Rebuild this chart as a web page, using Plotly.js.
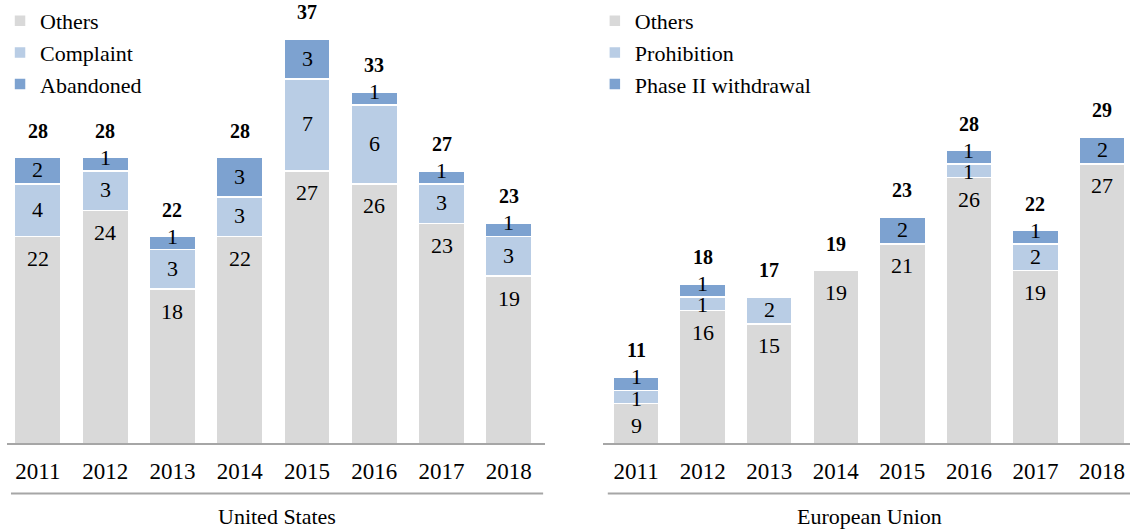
<!DOCTYPE html>
<html>
<head>
<meta charset="utf-8">
<script src="https://cdn.plot.ly/plotly-3.0.1.min.js"></script>
<style>html,body{margin:0;padding:0;background:#fff;}#chart{width:1130px;height:531px;}</style>
</head>
<body>
<div id="chart"></div>
<script>
const years = ['2011','2012','2013','2014','2015','2016','2017','2018'];

const usOthers    = [22, 24, 18, 22, 27, 26, 23, 19];
const usComplaint = [4, 3, 3, 3, 7, 6, 3, 3];
const usAbandoned = [2, 1, 1, 3, 3, 1, 1, 1];

const euOthers      = [9, 16, 15, 19, 21, 26, 19, 27];
const euProhibition = [1, 1, 2, 0, 0, 1, 2, 0];
const euPhaseII     = [1, 1, 0, 0, 2, 1, 1, 2];

const panelTitles = ['United States', 'European Union'];

const FONT = 'Liberation Serif, Times New Roman, serif';
const C_OTHERS = '#d9d9d9';
const C_LIGHT = '#b9cde5';
const C_DARK = '#7da2d0';

function vals(arr){ return arr.map(v => v ? v : null); }

function barTrace(name, y, color, xa, ya, legend){
  return {
    type: 'bar', name: name, x: years, y: vals(y),
    xaxis: xa, yaxis: ya, legend: legend,
    marker: {color: color, line: {color: '#ffffff', width: 1.5}},
    textposition: 'none',
    hoverinfo: 'skip'
  };
}

const data = [
  barTrace('Others', usOthers, C_OTHERS, 'x', 'y', 'legend'),
  barTrace('Complaint', usComplaint, C_LIGHT, 'x', 'y', 'legend'),
  barTrace('Abandoned', usAbandoned, C_DARK, 'x', 'y', 'legend'),
  barTrace('Others', euOthers, C_OTHERS, 'x2', 'y2', 'legend2'),
  barTrace('Prohibition', euProhibition, C_LIGHT, 'x2', 'y2', 'legend2'),
  barTrace('Phase II withdrawal', euPhaseII, C_DARK, 'x2', 'y2', 'legend2')
];

const usTotals = years.map((_, i) => usOthers[i] + usComplaint[i] + usAbandoned[i]);
const euTotals = years.map((_, i) => euOthers[i] + euProhibition[i] + euPhaseII[i]);

const annotations = [];
const segFont = {family: FONT, size: 22, color: '#000'};
function addPanel(others, light, dark, totals, xr, yr){
  others.forEach((v, i) => {
    annotations.push({x: i, y: v, xref: xr, yref: yr, text: String(v),
      showarrow: false, yanchor: 'middle', yshift: -22, font: segFont});
    if (light[i]) {
      annotations.push({x: i, y: v + light[i] / 2, xref: xr, yref: yr, text: String(light[i]),
        showarrow: false, yanchor: 'middle', yshift: light[i] === 1 ? -1 : 1, font: segFont});
    }
    if (dark[i]) {
      annotations.push({x: i, y: v + light[i] + dark[i] / 2, xref: xr, yref: yr, text: String(dark[i]),
        showarrow: false, yanchor: 'middle', yshift: dark[i] === 1 ? 7 : 1, font: segFont});
    }
    annotations.push({x: i, y: totals[i], xref: xr, yref: yr, text: '<b>' + totals[i] + '</b>',
      showarrow: false, yanchor: 'bottom', yshift: 14, font: {family: FONT, size: 20, color: '#000'}});
  });
}
addPanel(usOthers, usComplaint, usAbandoned, usTotals, 'x', 'y');
addPanel(euOthers, euProhibition, euPhaseII, euTotals, 'x2', 'y2');

annotations.push({x: 272/1130, y: -74/443, xref: 'paper', yref: 'paper', text: panelTitles[0],
  showarrow: false, xanchor: 'center', yanchor: 'middle', font: {family: FONT, size: 22, color: '#000'}});
annotations.push({x: 868/1130, y: -74/443, xref: 'paper', yref: 'paper', text: panelTitles[1],
  showarrow: false, xanchor: 'center', yanchor: 'middle', font: {family: FONT, size: 22, color: '#000'}});

const xCommon = {
  type: 'category', showgrid: false, zeroline: false, showline: true,
  linecolor: '#a6a6a6', linewidth: 2, ticks: 'outside', ticklen: 6, tickcolor: 'rgba(0,0,0,0)',
  tickfont: {family: FONT, size: 23, color: '#000'}, fixedrange: true
};
const yCommon = {showgrid: false, zeroline: false, showline: false, showticklabels: false, ticks: '', fixedrange: true};

const layout = {
  width: 1130, height: 531,
  margin: {l: 0, r: 0, t: 0, b: 88},
  paper_bgcolor: '#ffffff', plot_bgcolor: '#ffffff',
  barmode: 'stack', bargap: 0.31,
  font: {family: FONT, color: '#000'},
  xaxis: Object.assign({}, xCommon, {domain: [1/1130, 542/1130], range: [-0.46, 7.54], anchor: 'y'}),
  yaxis: Object.assign({}, yCommon, {range: [6.3, 6.3 + 443/13.3], anchor: 'x'}),
  xaxis2: Object.assign({}, xCommon, {domain: [600/1130, 1], range: [-0.5, 7.42], anchor: 'y2'}),
  yaxis2: Object.assign({}, yCommon, {range: [6.05, 6.05 + 443/13.47], anchor: 'x2'}),
  legend: {x: -6/1130, y: 1.012, xanchor: 'left', yanchor: 'top', traceorder: 'normal', bgcolor: 'rgba(0,0,0,0)',
    font: {family: FONT, size: 22, color: '#000'}, itemwidth: 30},
  legend2: {x: 592/1130, y: 1.012, xanchor: 'left', yanchor: 'top', traceorder: 'normal', bgcolor: 'rgba(0,0,0,0)',
    font: {family: FONT, size: 22, color: '#000'}, itemwidth: 30},
  showlegend: true,
  annotations: annotations,
  shapes: [
    {type: 'line', xref: 'paper', yref: 'paper', x0: 5/1130, x1: 540/1130, y0: -51/443, y1: -51/443,
      line: {color: '#a6a6a6', width: 2}},
    {type: 'line', xref: 'paper', yref: 'paper', x0: 605/1130, x1: 1, y0: -51/443, y1: -51/443,
      line: {color: '#a6a6a6', width: 2}}
  ]
};

Plotly.newPlot('chart', data, layout, {displayModeBar: false, staticPlot: true});
</script>
</body>
</html>
